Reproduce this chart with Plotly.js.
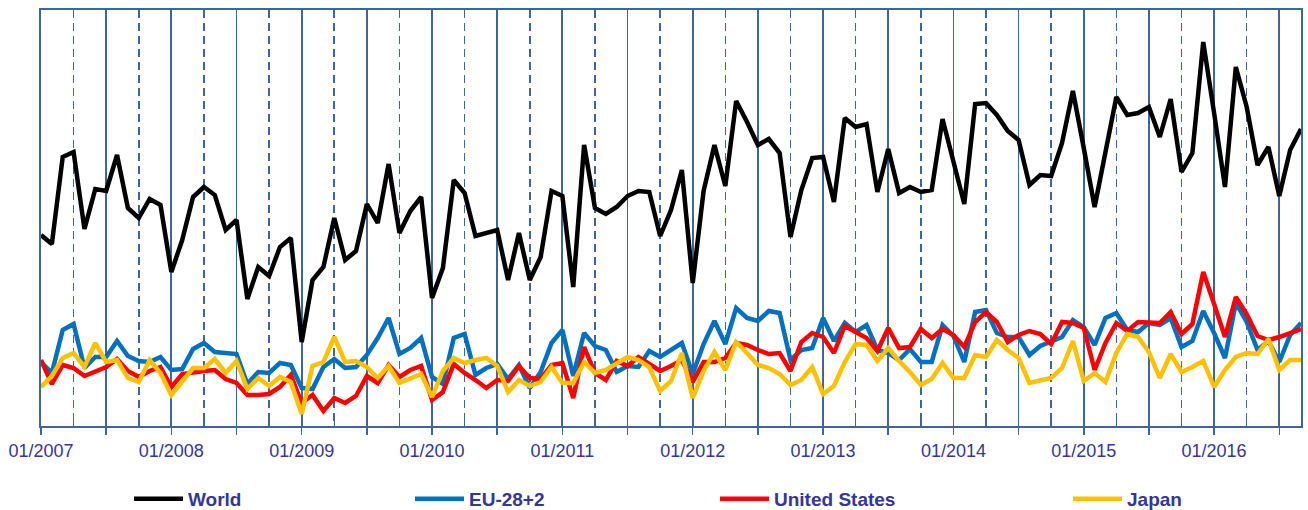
<!DOCTYPE html>
<html>
<head>
<meta charset="utf-8">
<script src="https://cdn.plot.ly/plotly-3.0.1.min.js"></script>
<style>
html,body{margin:0;padding:0;background:#fff;}
#chart{width:1308px;height:510px;}
</style>
</head>
<body>
<div id="chart"></div>
<script>
// Month index 0 = 01/2007 ... 116 = 09/2016 (monthly)
const tickLabels = ["01/2007","01/2008","01/2009","01/2010","01/2011","01/2012","01/2013","01/2014","01/2015","01/2016"];
const seriesNames = ["World","EU-28+2","United States","Japan"];

const world = [191,182,269,274,197,237,235,271,218,208,227,221,
154,186,229,239,231,196,206,127,159,150,179,188,
84,146,159,208,166,175,222,203,262,193,215,229,
128,158,246,233,190,193,196,146,193,146,169,235,
230,139,281,218,212,219,230,235,234,190,216,256,
143,235,281,240,325,304,281,287,273,189,236,268,
269,224,308,299,302,234,277,233,239,234,236,307,
263,222,322,323,311,295,286,241,251,250,283,335,
278,219,274,329,311,313,319,289,327,254,273,384,
313,239,359,319,261,279,230,276,297];

const eu = [64,53,96,102,58,69,69,85,70,65,64,69,
56,57,77,83,74,73,72,42,54,53,63,61,
38,37,59,67,58,59,71,88,108,72,78,88,
49,42,88,92,51,58,62,47,61,38,54,83,
96,50,93,80,76,54,60,59,75,69,76,83,
52,82,105,82,118,108,105,115,113,66,76,78,
108,85,103,94,101,76,73,66,77,64,64,101,
90,64,114,116,93,89,89,71,80,84,89,106,
99,81,108,113,96,94,103,101,108,79,85,115,
93,68,123,104,76,85,64,91,103];

const us = [66,42,61,58,50,54,59,67,55,49,55,59,
39,52,54,55,56,47,43,31,31,32,39,51,
23,31,15,28,23,30,50,43,61,49,56,60,
26,34,62,53,46,38,46,45,60,48,47,61,
63,28,79,53,46,65,60,69,62,55,60,66,
44,64,64,68,83,81,76,72,73,55,84,93,
89,73,100,94,88,75,98,78,79,97,88,97,
91,79,104,114,104,84,91,95,92,82,104,103,
98,56,83,103,95,104,103,103,114,92,102,154,
122,89,129,112,90,86,89,93,97];

const japan = [39,50,68,73,59,83,64,66,48,44,66,53,
31,44,58,58,67,53,65,37,48,40,49,44,
12,60,64,89,64,65,59,48,60,43,48,52,
29,55,68,63,66,68,60,34,46,40,44,59,
43,43,64,53,56,62,69,66,59,35,45,73,
28,55,74,56,84,73,61,58,52,41,46,59,
32,40,64,82,81,65,78,65,54,41,47,63,
48,48,71,69,86,76,68,43,46,48,58,85,
45,53,44,73,92,89,74,48,72,54,59,65,
39,56,69,73,72,87,56,66,66];

const months = world.map((_, i) => i);

const colors = ["#000000","#0070c0","#ff0000","#ffc000"];
const allSeries = [world, eu, us, japan];
const legendIds = ["legend","legend2","legend3","legend4"];

const traces = allSeries.map((ys, k) => ({
  type: "scatter",
  mode: "lines",
  x: months,
  y: ys,
  name: seriesNames[k],
  legend: legendIds[k],
  line: {color: colors[k], width: 4.5},
  hoverinfo: "skip"
}));

const tickvals = [];
const ticktext = [];
for (let m = 0; m <= 114; m += 6) {
  tickvals.push(m);
  ticktext.push(m % 12 === 0 ? tickLabels[m / 12] : "");
}

const frame = "#3f6699";
const txt = "#35359a";
const fontFam = "Liberation Sans, Arial, sans-serif";

const legendBase = {
  orientation: "h",
  xref: "container",
  yref: "container",
  yanchor: "middle",
  y: 1 - 499 / 510,
  xanchor: "left",
  bgcolor: "rgba(0,0,0,0)",
  itemwidth: 49,
  font: {family: fontFam, size: 19, color: txt, weight: "bold"},
  itemclick: false,
  itemdoubleclick: false
};
function pxc(p) { return p / 1308; }

const layout = {
  width: 1308,
  height: 510,
  margin: {l: 41, r: 7, t: 10, b: 84, pad: 0, autoexpand: false},
  paper_bgcolor: "#ffffff",
  plot_bgcolor: "#ffffff",
  font: {family: fontFam, color: txt},
  xaxis: {
    range: [0, 116],
    tickmode: "array",
    tickvals: tickvals,
    ticktext: ticktext,
    ticks: "outside",
    ticklen: 7,
    tickwidth: 1.5,
    tickcolor: frame,
    tickfont: {family: fontFam, size: 18, color: txt},
    automargin: false,
    showgrid: true,
    gridcolor: frame,
    gridwidth: 1.8,
    showline: true,
    linecolor: frame,
    linewidth: 2,
    mirror: true,
    zeroline: false,
    fixedrange: true,
    minor: {
      tick0: 3,
      dtick: 6,
      ticks: "inside",
      ticklen: 6,
      tickcolor: frame,
      tickwidth: 1.5,
      showgrid: true,
      gridcolor: frame,
      gridwidth: 1.6,
      griddash: "8px,5px"
    }
  },
  yaxis: {
    range: [0, 416],
    showticklabels: false,
    ticks: "",
    showgrid: false,
    zeroline: false,
    showline: true,
    linecolor: frame,
    linewidth: 2,
    mirror: true,
    automargin: false,
    fixedrange: true
  },
  showlegend: true,
  legend: Object.assign({}, legendBase, {x: pxc(129)}),
  legend2: Object.assign({}, legendBase, {x: pxc(410)}),
  legend3: Object.assign({}, legendBase, {x: pxc(715)}),
  legend4: Object.assign({}, legendBase, {x: pxc(1068)})
};

Plotly.newPlot("chart", traces, layout, {displayModeBar: false, staticPlot: true});
</script>
</body>
</html>
